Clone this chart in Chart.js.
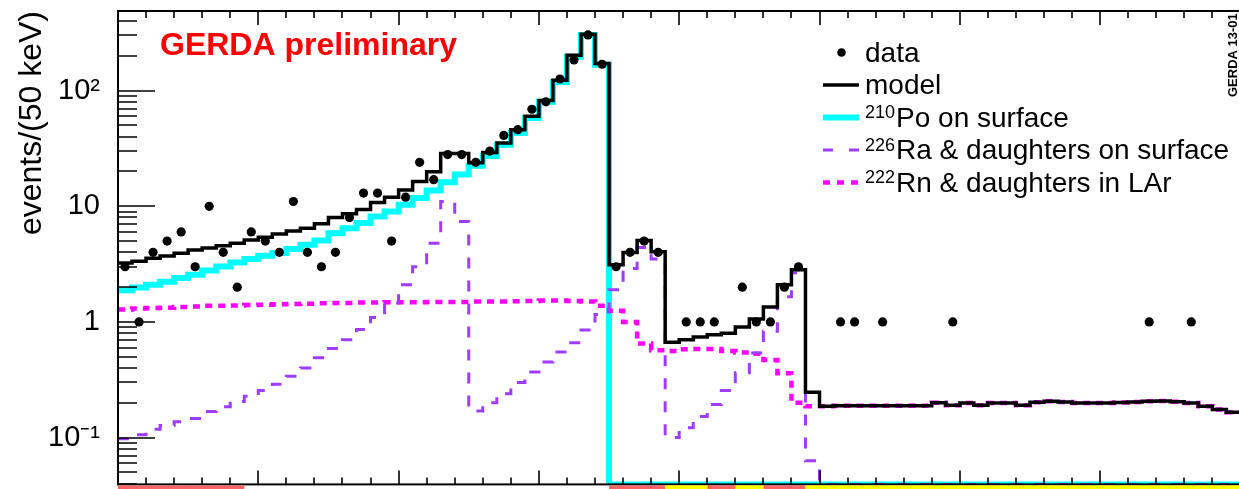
<!DOCTYPE html>
<html>
<head>
<meta charset="utf-8">
<script src="https://cdn.jsdelivr.net/npm/chart.js@4.4.1/dist/chart.umd.min.js"></script>
<style>
    html, body { margin: 0; padding: 0; background: #fff; overflow: hidden; }
    #wrap { width: 1245px; height: 489px; }
</style>
</head>
<body>
<div id="wrap"><canvas id="spectrum" width="1245" height="489"></canvas></div>
<script>
// Binning (keV)
const binLow = 3500;
const binWidth = 50;
const binCount = 80;

// Observed events per bin
const dataCounts = [
    3, 1, 4, 5, 6, 3, 10, 4, 2, 6,
    5, 4, 11, 4, 3, 4, 8, 13, 13, 5,
    12, 24, 17, 28, 28, 24, 30, 41, 46, 69,
    80, 126, 184, 303, 169, 3, 4, 5, 4, 0,
    1, 1, 1, 0, 2, 1, 1, 2, 3, 0,
    0, 1, 1, 0, 1, 0, 0, 0, 0, 1,
    0, 0, 0, 0, 0, 0, 0, 0, 0, 0,
    0, 0, 0, 1, 0, 0, 1, 0, 0, 0
];

// Total model
const modelValues = [
    3.23, 3.35, 3.55, 3.72, 3.92, 4.18, 4.35, 4.55, 4.8, 5.1,
    5.4, 5.75, 6.1, 6.45, 7.05, 8.0, 8.6, 9.4, 10.8, 12.0,
    13.8, 16.4, 19.9, 28.6, 28.6, 23.8, 29.2, 35.3, 46, 60,
    82, 123, 202, 307, 172, 3.13, 3.98, 5.07, 4.05, 0.667,
    0.70, 0.742, 0.777, 0.80, 0.905, 1.06, 1.35, 2.1, 2.83, 0.247,
    0.187, 0.189, 0.189, 0.189, 0.189, 0.189, 0.189, 0.189, 0.200, 0.190,
    0.199, 0.190, 0.199, 0.199, 0.190, 0.202, 0.206, 0.203, 0.199, 0.199,
    0.199, 0.201, 0.203, 0.206, 0.207, 0.204, 0.199, 0.187, 0.175, 0.166
];

// 210Po on surface
const poValues = [
    1.875, 1.99, 2.10, 2.23, 2.40, 2.56, 2.79, 3.02, 3.27, 3.50,
    3.74, 3.94, 4.27, 4.65, 5.07, 5.86, 6.47, 7.16, 8.18, 9.0,
    10.3, 11.8, 13.7, 16.1, 18.8, 22.4, 27.2, 34, 43, 58,
    80, 119, 196, 302, 167, 0, 0, 0, 0, 0,
    0, 0, 0, 0, 0, 0, 0, 0, 0, 0,
    0, 0, 0, 0, 0, 0, 0, 0, 0, 0,
    0, 0, 0, 0, 0, 0, 0, 0, 0, 0,
    0, 0, 0, 0, 0, 0, 0, 0, 0, 0
];

// 226Ra & daughters on surface
const raValues = [
    0.098, 0.106, 0.118, 0.127, 0.137, 0.146, 0.168, 0.185, 0.205, 0.228,
    0.256, 0.29, 0.34, 0.40, 0.49, 0.59, 0.70, 0.86, 1.09, 1.46,
    2.1, 3.0, 4.8, 11.0, 7.4, 0.17, 0.20, 0.24, 0.30, 0.37,
    0.45, 0.55, 0.66, 0.85, 1.16, 1.9, 2.9, 4.4, 3.5, 0.10,
    0.122, 0.152, 0.193, 0.255, 0.363, 0.54, 0.83, 1.65, 2.66, 0.063,
    0, 0, 0, 0, 0, 0, 0, 0, 0, 0,
    0, 0, 0, 0, 0, 0, 0, 0, 0, 0,
    0, 0, 0, 0, 0, 0, 0, 0, 0, 0
];

// 222Rn & daughters in LAr
const rnValues = [
    1.28, 1.31, 1.32, 1.33, 1.35, 1.36, 1.38, 1.38, 1.39, 1.40,
    1.41, 1.42, 1.43, 1.44, 1.45, 1.46, 1.46, 1.47, 1.47, 1.48,
    1.48, 1.48, 1.49, 1.49, 1.49, 1.50, 1.50, 1.50, 1.51, 1.52,
    1.53, 1.53, 1.52, 1.50, 1.38, 1.25, 1.0, 0.65, 0.57, 0.56,
    0.58, 0.585, 0.585, 0.56, 0.545, 0.53, 0.47, 0.36, 0.20, 0.187,
    0.187, 0.189, 0.189, 0.189, 0.189, 0.189, 0.189, 0.189, 0.200, 0.190,
    0.199, 0.190, 0.199, 0.199, 0.190, 0.202, 0.206, 0.203, 0.199, 0.199,
    0.199, 0.201, 0.203, 0.206, 0.207, 0.204, 0.199, 0.187, 0.175, 0.166
];

// Axis ranges and tick labels
const yMin = 0.0394;
const yMax = 488;
const yTickValues = [0.1, 1, 10, 100];
const yTickLabels = ['10\u207B\u00B9', '1', '10', '10\u00B2'];

// Legend texts
const legendIsotopes = ['', '', '210', '226', '222'];
const legendLabels = ['data', 'model', 'Po on surface', 'Ra & daughters on surface', 'Rn & daughters in LAr'];

// Residual-panel colour bands peeking below the frame (keV)
const redBands = [[3500, 3950], [5250, 5450], [5600, 5700], [5800, 5950]];
const yellowBands = [[5450, 5600], [5700, 5800], [5950, 7500]];

const FONT = '"Liberation Sans", Arial, Helvetica, sans-serif';

// Histogram outline: one point per bin left edge plus closing edge.
// Empty bins sit on the frame floor like ROOT draws them (log axis has no 0).
function histPoints(values) {
    const pts = values.map((v, i) => ({ x: binLow + i * binWidth, y: v > 0 ? v : yMin }));
    pts.push({ x: binLow + binCount * binWidth, y: pts[pts.length - 1].y });
    return pts;
}

const dataPoints = dataCounts.map((c, i) => ({
    x: binLow + (i + 0.5) * binWidth,
    y: c > 0 ? c : null
}));

// Frame and ROOT-style inward ticks
const frameTicks = {
    id: 'frameTicks',
    afterDatasetsDraw(chart) {
        const { ctx, chartArea: a, scales: { x, y } } = chart;
        ctx.save();
        ctx.strokeStyle = '#000';
        ctx.lineWidth = 2;
        ctx.strokeRect(a.left, a.top, a.right - a.left, a.bottom - a.top);

        ctx.lineWidth = 1.6;
        ctx.beginPath();
        for (let e = binLow; e <= binLow + binCount * binWidth; e += 100) {
            const px = Math.round(x.getPixelForValue(e));
            const len = e % 500 === 0 ? 14 : 7;
            ctx.moveTo(px, a.top);
            ctx.lineTo(px, a.top + len);
            ctx.moveTo(px, a.bottom);
            ctx.lineTo(px, a.bottom - len);
        }
        for (let d = -2; d <= 2; d++) {
            for (let m = 1; m <= 9; m++) {
                const v = m * Math.pow(10, d);
                if (v < y.min || v > y.max) continue;
                const py = Math.round(y.getPixelForValue(v));
                const len = m === 1 ? 37 : 19;
                ctx.moveTo(a.left, py);
                ctx.lineTo(a.left + len, py);
            }
        }
        ctx.stroke();
        ctx.restore();
    }
};

// Texts and legend
const annotations = {
    id: 'annotations',
    afterDraw(chart) {
        const { ctx, chartArea: a, scales: { x } } = chart;
        const datasets = chart.data.datasets;
        ctx.save();

        // residual band strip under the frame
        const stripTop = a.bottom + 1;
        const stripH = chart.height - stripTop;
        const fillBands = (bands, color) => {
            ctx.fillStyle = color;
            bands.forEach(([e0, e1]) => {
                const x0 = x.getPixelForValue(e0);
                const x1 = x.getPixelForValue(e1);
                ctx.fillRect(x0, stripTop, x1 - x0, stripH);
            });
        };
        fillBands(redBands, '#ff6464');
        fillBands(yellowBands, '#ffff00');

        // GERDA preliminary
        ctx.fillStyle = '#ff0000';
        ctx.font = 'bold 32px ' + FONT;
        ctx.textAlign = 'left';
        ctx.textBaseline = 'alphabetic';
        ctx.fillText('GERDA preliminary', 160, 55);

        // plot id
        ctx.save();
        ctx.translate(1237, 97);
        ctx.rotate(-Math.PI / 2);
        ctx.fillStyle = '#000';
        ctx.font = 'bold 13px ' + FONT;
        ctx.fillText('GERDA 13-01', 0, 0);
        ctx.restore();

        // legend
        const symX0 = 823;
        const symX1 = 859;
        const textX = 865;
        const firstBase = 61.5;
        const step = 32.5;
        legendLabels.forEach((label, i) => {
            const ds = datasets[i];
            const base = firstBase + i * step;
            const sy = base - 9;
            ctx.save();
            if (i === 0) {
                ctx.fillStyle = ds.pointBackgroundColor;
                ctx.beginPath();
                ctx.arc((symX0 + symX1) / 2 + 0.5, sy, 4.3, 0, Math.PI * 2);
                ctx.fill();
            } else {
                ctx.strokeStyle = ds.borderColor;
                ctx.lineWidth = ds.borderWidth;
                ctx.setLineDash(ds.legendDash || []);
                ctx.beginPath();
                ctx.moveTo(symX0, sy);
                ctx.lineTo(symX1, sy);
                ctx.stroke();
            }
            ctx.restore();

            ctx.fillStyle = '#000';
            let tx = textX;
            if (legendIsotopes[i]) {
                ctx.font = '18px ' + FONT;
                ctx.fillText(legendIsotopes[i], tx, base - 8.5);
                tx += ctx.measureText(legendIsotopes[i]).width + 1;
            }
            ctx.font = '28px ' + FONT;
            ctx.fillText(label, tx, base);
        });
        ctx.restore();
    }
};

new Chart(document.getElementById('spectrum'), {
    type: 'line',
    data: {
        datasets: [
            {
                label: 'data',
                type: 'scatter',
                data: dataPoints,
                pointRadius: 4.6,
                pointBackgroundColor: '#000',
                pointBorderWidth: 0,
                order: 0
            },
            {
                label: 'model',
                data: histPoints(modelValues),
                stepped: true,
                borderColor: '#000',
                borderWidth: 3.5,
                pointRadius: 0,
                borderJoinStyle: 'miter',
                clip: 0,
                order: 1
            },
            {
                label: '210Po on surface',
                data: histPoints(poValues),
                stepped: true,
                borderColor: '#00ffff',
                borderWidth: 6,
                pointRadius: 0,
                borderJoinStyle: 'miter',
                clip: 0,
                order: 4
            },
            {
                label: '226Ra & daughters on surface',
                data: histPoints(raValues),
                stepped: true,
                borderColor: '#a03cff',
                borderWidth: 3,
                borderDash: [11, 12],
                legendDash: [10, 16],
                pointRadius: 0,
                borderJoinStyle: 'miter',
                clip: 0,
                order: 2
            },
            {
                label: '222Rn & daughters in LAr',
                data: histPoints(rnValues),
                stepped: true,
                borderColor: '#ff00ff',
                borderWidth: 4.5,
                borderDash: [7, 6],
                legendDash: [7, 7],
                pointRadius: 0,
                borderJoinStyle: 'miter',
                clip: 0,
                order: 3
            }
        ]
    },
    options: {
        responsive: false,
        devicePixelRatio: 1,
        animation: false,
        layout: { padding: { top: 11, right: 3, bottom: 4, left: 0 } },
        plugins: {
            legend: { display: false },
            tooltip: { enabled: false }
        },
        scales: {
            x: {
                type: 'linear',
                min: binLow,
                max: binLow + binCount * binWidth,
                display: false
            },
            y: {
                type: 'logarithmic',
                min: yMin,
                max: yMax,
                afterBuildTicks: (scale) => {
                    scale.ticks = yTickValues.map(v => ({ value: v }));
                },
                afterFit: (scale) => {
                    scale.width = 118;
                    scale.paddingTop = 0;
                    scale.paddingBottom = 0;
                },
                ticks: {
                    callback: (value, index) => yTickLabels[index],
                    color: '#000',
                    padding: 18,
                    font: { family: FONT, size: 29 }
                },
                grid: { display: false, drawTicks: false },
                border: { display: false },
                title: {
                    display: true,
                    text: 'events/(50 keV)',
                    align: 'end',
                    color: '#000',
                    font: { family: FONT, size: 32 },
                    padding: { top: 13, bottom: 0 }
                }
            }
        }
    },
    plugins: [frameTicks, annotations]
});
</script>
</body>
</html>
